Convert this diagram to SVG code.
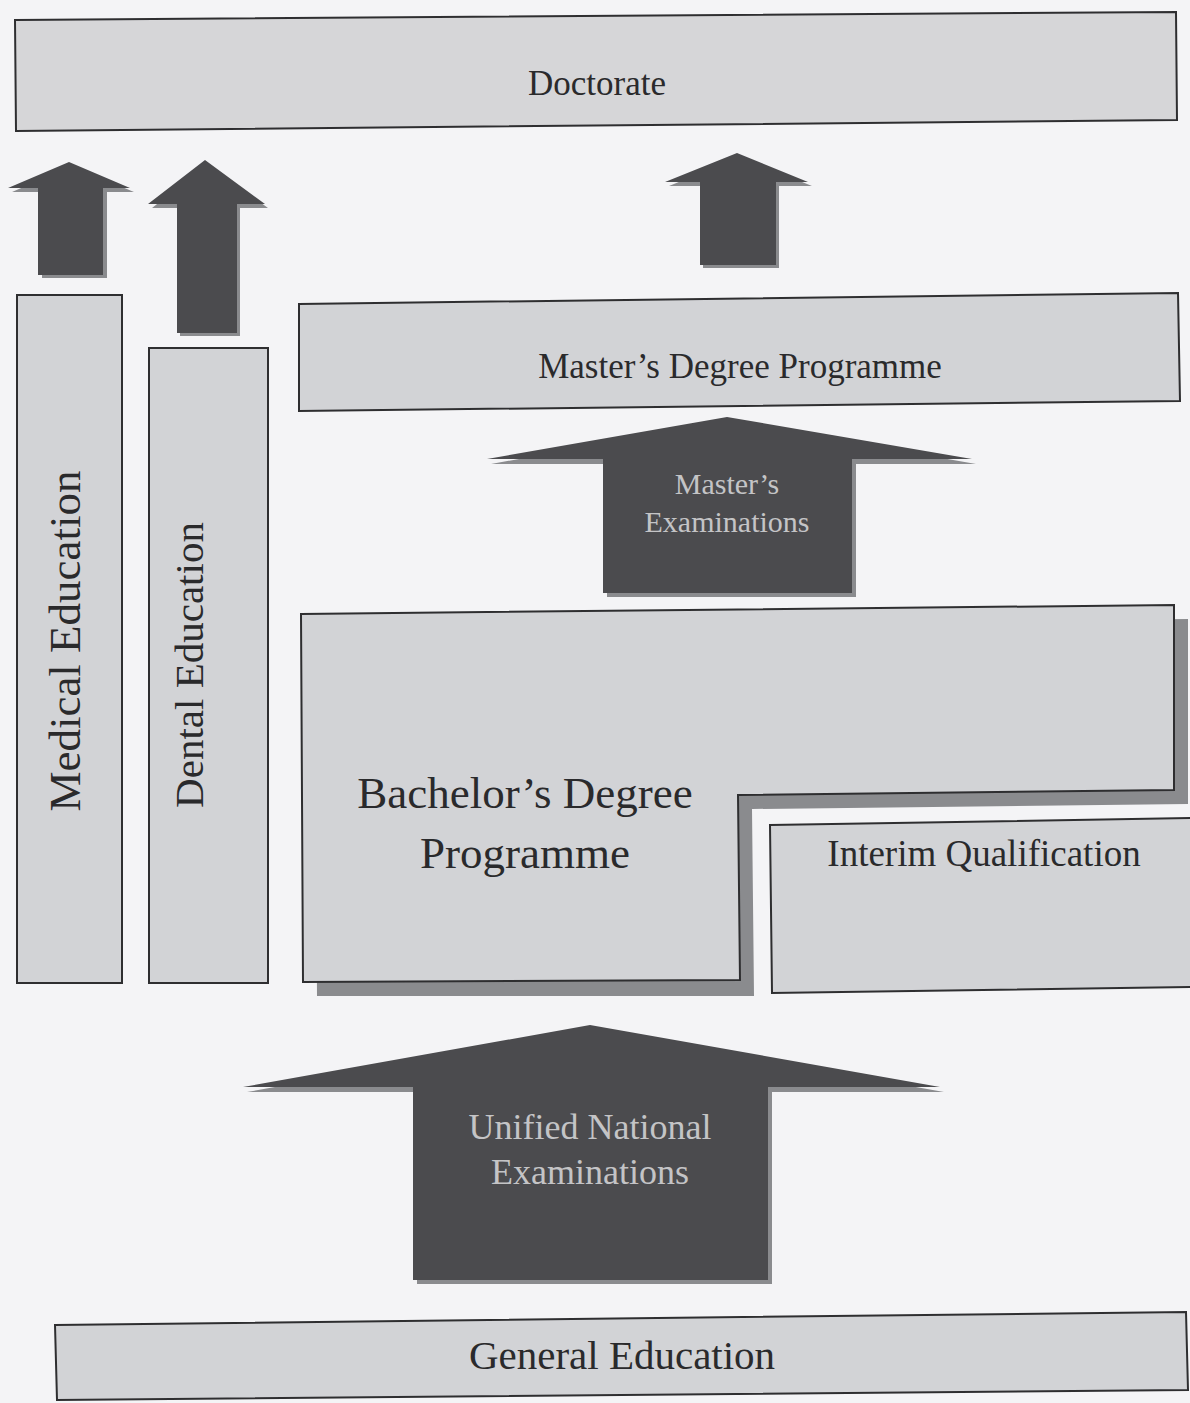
<svg xmlns="http://www.w3.org/2000/svg" width="1190" height="1403" viewBox="0 0 1190 1403">
<style>
.box{fill:#d2d3d6;stroke:#2e2e30;stroke-width:2}
.arr{fill:#4b4b4e}
.sh{fill:#8a8b8e}
.t{font-family:"Liberation Serif","DejaVu Serif",serif;fill:#2a2a2c;text-anchor:middle}
.tl{font-family:"Liberation Serif","DejaVu Serif",serif;fill:#c4c4c6;text-anchor:middle}
</style>
<rect width="1190" height="1403" fill="#f4f4f6"/>
<g id="doctorate">
<polygon class="box" points="15,20 1176,12 1177,120 16,131" style="fill:#d6d6d8"/>
<text class="t" x="597" y="95" font-size="35">Doctorate</text>
</g>
<g id="connectors">
<g id="arrow-medical">
<polygon class="sh" points="72,166 134,192 107,192 107,278 42,278 42,192 12,192"/>
<polygon class="arr" points="69,162 130,188 103,188 103,275 38,275 38,188 8,188"/>
</g>
<g id="arrow-dental">
<polygon class="sh" points="208,164 268,208 240,208 240,336 180,336 180,208 152,208"/>
<polygon class="arr" points="205,160 265,204 237,204 237,333 177,333 177,204 148,204"/>
</g>
<g id="arrow-doctorate">
<polygon class="sh" points="740,157 812,186 779,186 779,268 703,268 703,186 669,186"/>
<polygon class="arr" points="737,153 808,182 776,182 776,265 700,265 700,182 665,182"/>
</g>
</g>
<g id="medical">
<rect class="box" x="17" y="295" width="105" height="688"/>
<text class="t" font-size="45" transform="translate(80,641) rotate(-90)">Medical  Education</text>
</g>
<g id="dental">
<rect class="box" x="149" y="348" width="119" height="635"/>
<text class="t" font-size="41" transform="translate(203,665) rotate(-90)">Dental Education</text>
</g>
<g id="masters">
<polygon class="box" points="299,304 1178,293 1180,401 299,411"/>
<text class="t" x="740" y="378" font-size="35">Master’s Degree Programme</text>
</g>
<g id="masters-exam">
<polygon class="sh" points="730,421 976,464 856,464 856,597 607,597 607,464 491,464"/>
<polygon class="arr" points="727,417 972,459 852,459 852,593 603,593 603,459 487,459"/>
<text class="tl" x="727" y="494" font-size="30">Master’s</text>
<text class="tl" x="727" y="532" font-size="30">Examinations</text>
</g>
<g id="bachelors">
<polygon class="sh" points="315,628 1188,619 1188,804 752,809 754,996 317,996"/>
<polygon class="box" points="301,614 1174,605 1174,790 738,795 740,980 303,982"/>
<text class="t" x="525" y="808" font-size="45">Bachelor’s Degree</text>
<text class="t" x="525" y="868" font-size="45">Programme</text>
</g>
<g id="interim">
<polygon class="box" points="770,825 1192,818 1192,987 772,993"/>
<text class="t" x="984" y="866" font-size="37">Interim Qualification</text>
</g>
<g id="unified-exam">
<polygon class="sh" points="593,1030 944,1092 772,1092 772,1284 417,1284 417,1092 247,1092"/>
<polygon class="arr" points="590,1025 940,1087 768,1087 768,1280 413,1280 413,1087 243,1087"/>
<text class="tl" x="590" y="1139" font-size="36">Unified National</text>
<text class="tl" x="590" y="1184" font-size="36">Examinations</text>
</g>
<g id="general">
<polygon class="box" points="55,1325 1186,1312 1188,1390 57,1400"/>
<text class="t" x="622" y="1369" font-size="41">General Education</text>
</g>
</svg>
